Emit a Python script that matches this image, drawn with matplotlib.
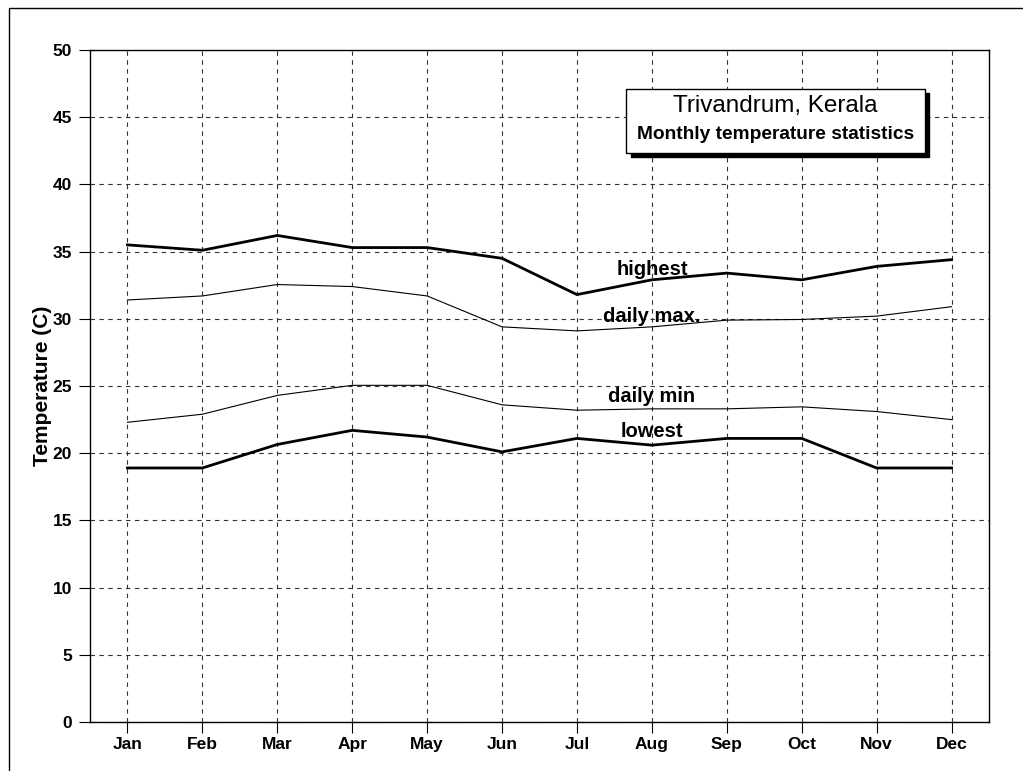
import matplotlib
matplotlib.use('Agg')
import matplotlib.pyplot as plt
from matplotlib.patches import Rectangle

plt.rcParams['font.family'] = ['Liberation Sans', 'DejaVu Sans']

months = ['Jan', 'Feb', 'Mar', 'Apr', 'May', 'Jun', 'Jul', 'Aug', 'Sep', 'Oct', 'Nov', 'Dec']
highest = [35.5, 35.1, 36.2, 35.3, 35.3, 34.5, 31.8, 32.9, 33.4, 32.9, 33.9, 34.4]
daily_max = [31.4, 31.7, 32.55, 32.4, 31.7, 29.4, 29.1, 29.4, 29.9, 29.95, 30.2, 30.9]
daily_min = [22.3, 22.9, 24.3, 25.05, 25.05, 23.6, 23.2, 23.3, 23.3, 23.45, 23.1, 22.5]
lowest = [18.9, 18.9, 20.65, 21.7, 21.2, 20.1, 21.1, 20.6, 21.1, 21.1, 18.9, 18.9]

fig = plt.figure(figsize=(10.23, 7.71), dpi=100)
ax = fig.add_axes([90 / 1023, 49 / 771, 899 / 1023, 672 / 771])

x = list(range(len(months)))
ax.plot(x, highest, color='black', lw=2.0)
ax.plot(x, daily_max, color='black', lw=0.8)
ax.plot(x, daily_min, color='black', lw=0.8)
ax.plot(x, lowest, color='black', lw=2.0)

# series labels
lab_kw = dict(ha='center', va='center', fontsize=14.5, fontweight='bold')
ax.text(7, 33.7, 'highest', **lab_kw)
ax.text(7, 30.2, 'daily max.', **lab_kw)
ax.text(7, 24.25, 'daily min', **lab_kw)
ax.text(7, 21.6, 'lowest', **lab_kw)

ax.set_xlim(-0.5, 11.5)
ax.set_ylim(0, 50)
ax.set_xticks(x)
ax.set_xticklabels(months)
ax.set_yticks(range(0, 51, 5))
ax.grid(True, color='#333333', linestyle=(0, (4, 4)), lw=0.8)
ax.tick_params(axis='both', direction='out', length=8, width=0.8, labelsize=12.5)
ax.tick_params(axis='x', pad=3)
ax.tick_params(axis='y', pad=5)
for lbl in ax.get_xticklabels() + ax.get_yticklabels():
    lbl.set_fontweight('bold')
ax.set_ylabel('Temperature (C)', fontsize=15, fontweight='bold', labelpad=0)
for s in ax.spines.values():
    s.set_linewidth(1.0)

# title box with drop shadow
bx, by, bw, bh = 6.66, 42.34, 3.98, 4.76
ax.add_patch(Rectangle((bx + 0.055, by - 0.3), bw, bh, facecolor='black', edgecolor='black', zorder=5))
ax.add_patch(Rectangle((bx, by), bw, bh, facecolor='white', edgecolor='black', lw=1.0, zorder=6))
ax.text(bx + bw / 2, 45.85, 'Trivandrum, Kerala', ha='center', va='center', fontsize=17.5,
        fontweight='medium', zorder=7)
ax.text(bx + bw / 2, 43.7, 'Monthly temperature statistics', ha='center', va='center',
        fontsize=13.8, fontweight='bold', zorder=7)

# outer frame
fig.add_artist(Rectangle((9 / 1023, -0.1), 1.2, (771 - 8) / 771 + 0.1, transform=fig.transFigure,
                         facecolor='none', edgecolor='black', lw=1.0))

fig.savefig('out.png', dpi=100)
